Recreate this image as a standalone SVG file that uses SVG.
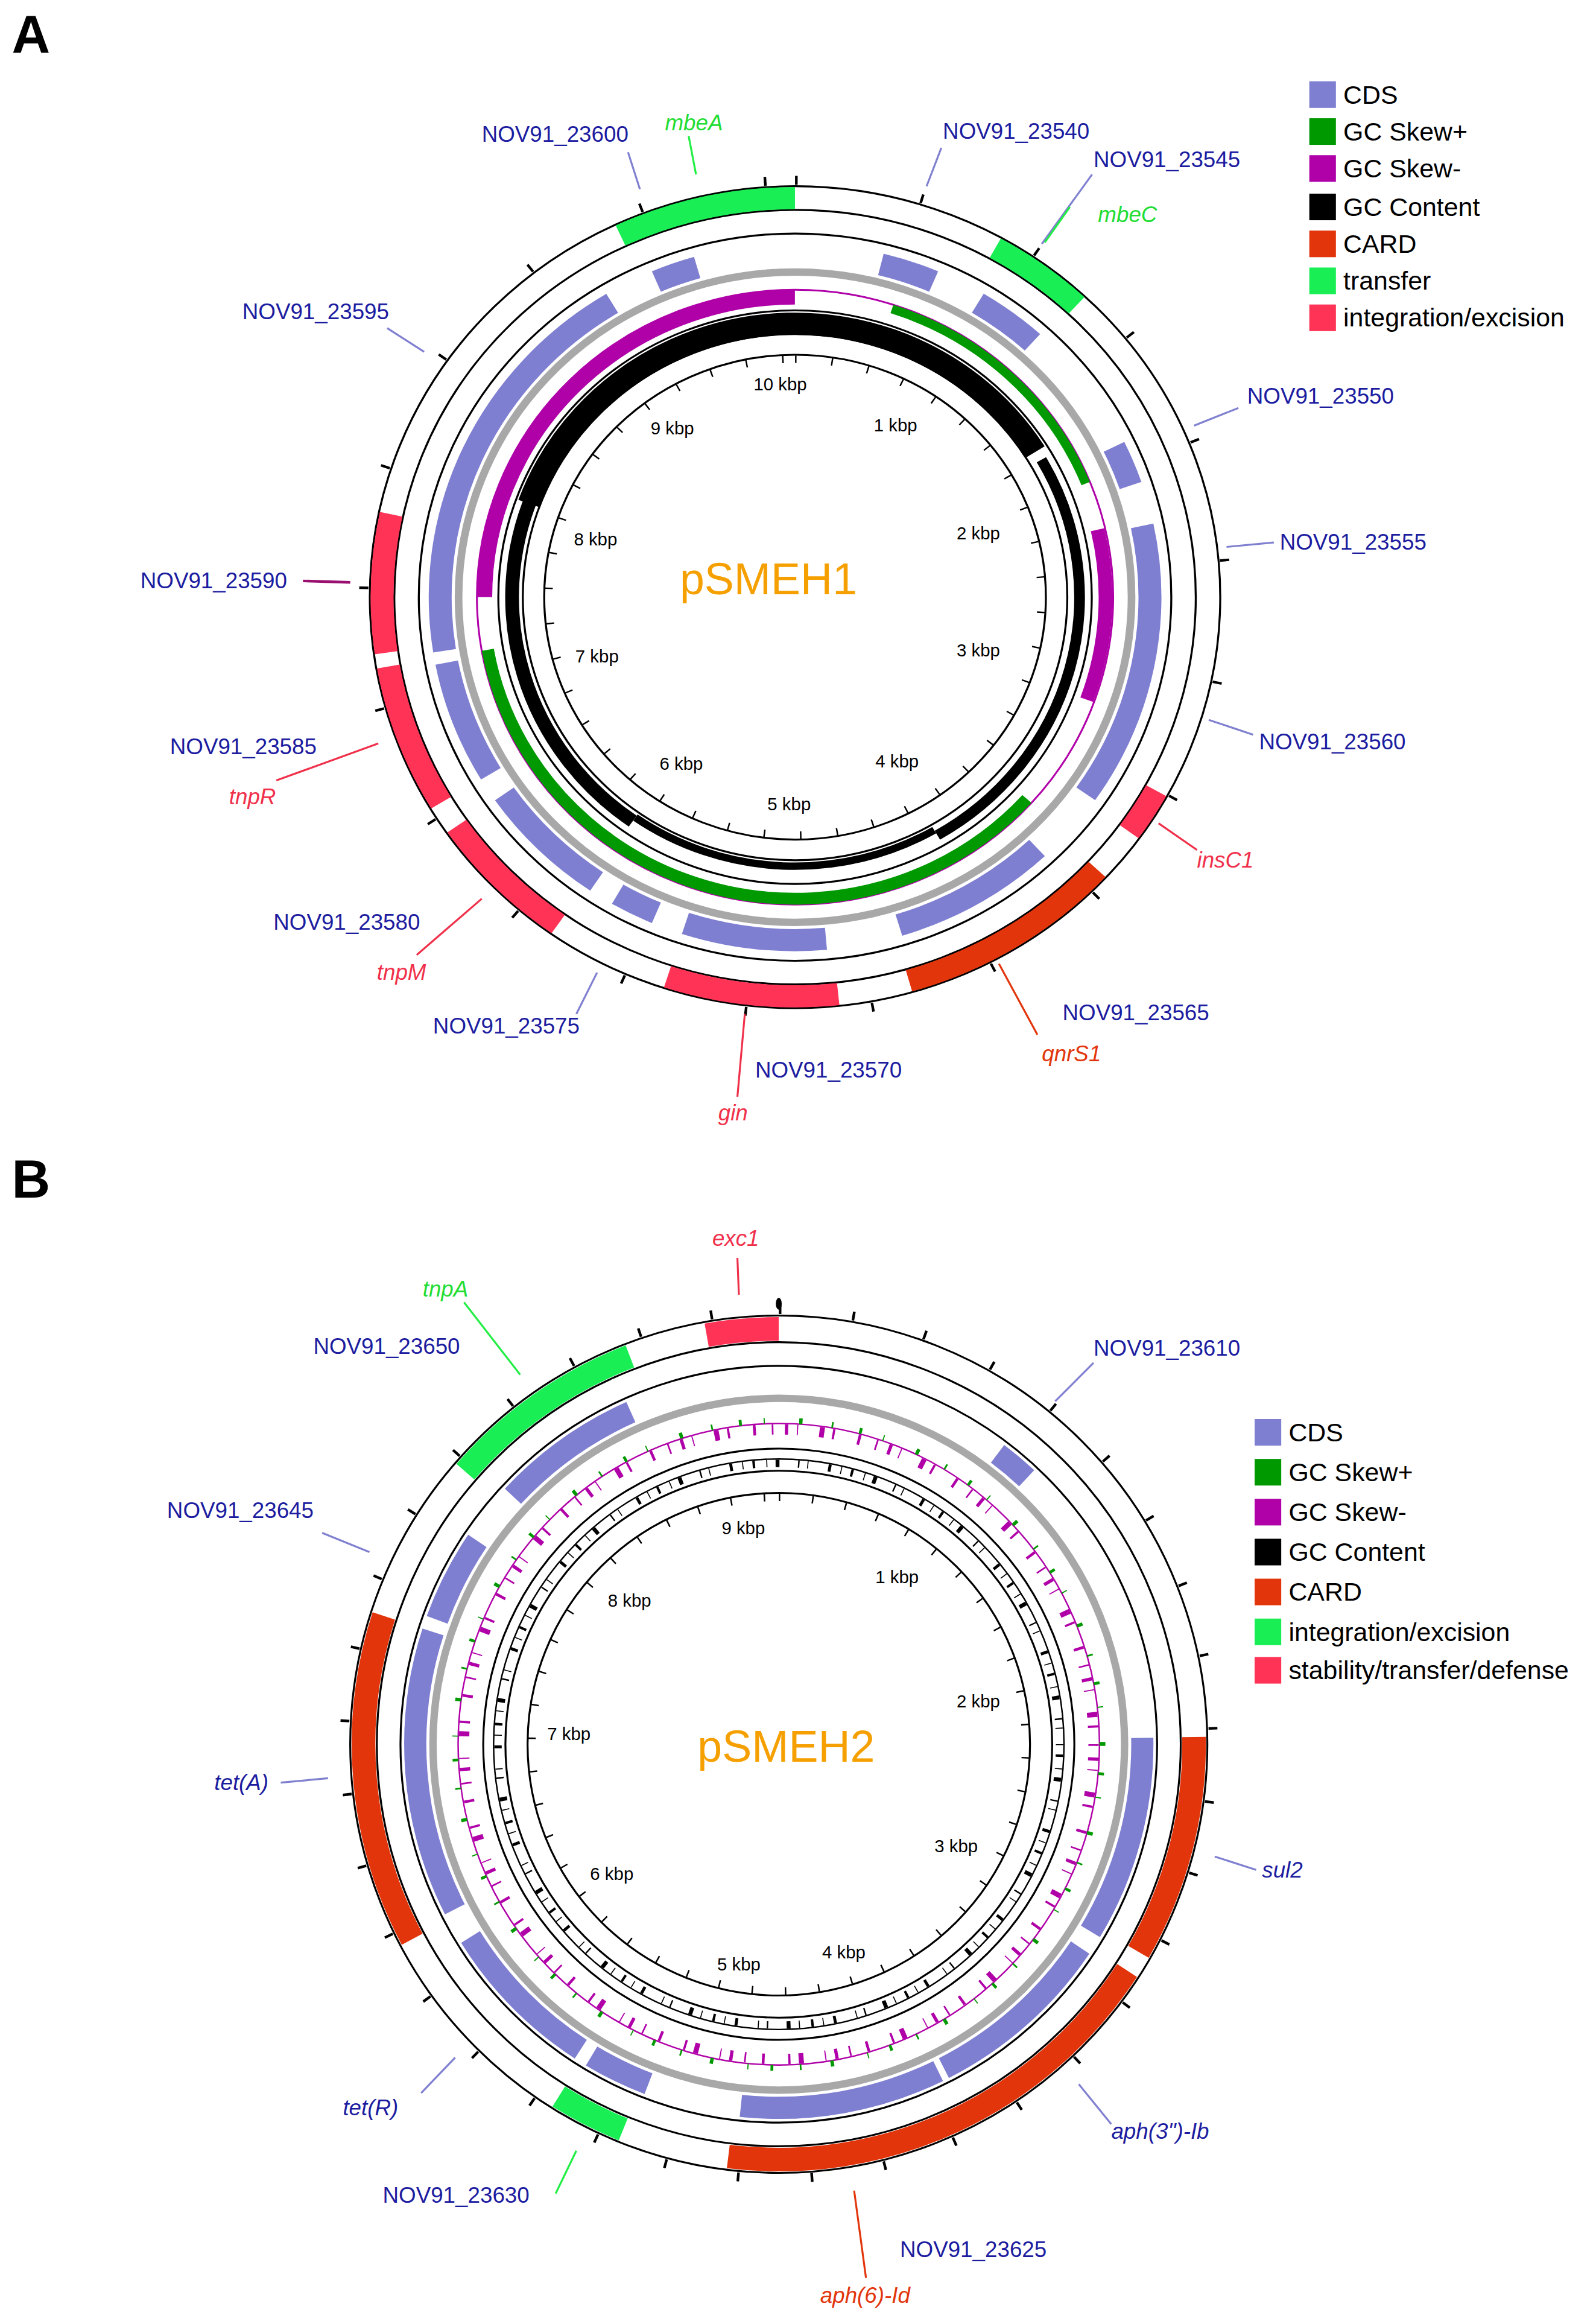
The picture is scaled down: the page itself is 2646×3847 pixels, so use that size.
<svg xmlns="http://www.w3.org/2000/svg" width="2646" height="3847" viewBox="0 0 2646 3847">
<style>
text{font-family:"Liberation Sans",Arial,sans-serif}
.lb{font-size:15px;fill:#1c1ca0}
.it{font-style:italic}
.kb{font-size:12px;fill:#000;text-anchor:middle}
.lg{font-size:17.5px;fill:#000}
.ring{fill:none;stroke:#000;stroke-width:1.3}
.arc{fill:none}
.cds{stroke:#7f7fd2;stroke-width:15}
.grey{fill:none;stroke:#a8a8a8;stroke-width:5}
.blu{stroke:#8080d0;stroke-width:1.3}
.red{stroke:#f0304a;stroke-width:1.3}
.grn{stroke:#22ee44;stroke-width:1.3}
.org{stroke:#e2350b;stroke-width:1.3}
</style>
<rect width="2646" height="3847" fill="#fff"/>
<g transform="scale(2.45)">
<g id="panelA">
<text x="8" y="36" font-size="36" font-weight="bold">A</text>
<g id="circA" transform="translate(538 404) scale(1.035 1)">
<circle class="ring" r="278"/><circle class="ring" r="262"/><circle class="ring" r="246"/>
<circle class="ring" r="194"/><circle class="ring" r="178"/><circle class="ring" r="164"/>
<circle class="arc" r="282" stroke="#000" stroke-width="6" pathLength="360" stroke-dasharray="0.35 16.6" transform="rotate(-90)"/>
<circle class="arc" r="161" stroke="#000" stroke-width="5" pathLength="360" stroke-dasharray="0.35 8.15" transform="rotate(-90)"/>
<g id="featA" class="arc" stroke-width="15">
<circle r="270" stroke="#19ee55" pathLength="360" stroke-dasharray="25 360" transform="rotate(-115)"/>
<circle r="270" stroke="#19ee55" pathLength="360" stroke-dasharray="14 360" transform="rotate(-61)"/>
<circle r="270" stroke="#ff3355" pathLength="360" stroke-dasharray="7 360" transform="rotate(29)"/>
<circle r="270" stroke="#e2350b" pathLength="360" stroke-dasharray="31 360" transform="rotate(43)"/>
<circle r="270" stroke="#ff3355" pathLength="360" stroke-dasharray="24 360" transform="rotate(84)"/>
<circle r="270" stroke="#ff3355" pathLength="360" stroke-dasharray="20 360" transform="rotate(125)"/>
<circle r="270" stroke="#ff3355" pathLength="360" stroke-dasharray="21 360" transform="rotate(149)"/>
<circle r="270" stroke="#ff3355" pathLength="360" stroke-dasharray="20 360" transform="rotate(172)"/>
</g>
<circle class="grey" r="220"/>
<g id="cdsA" class="arc cds">
<circle r="232" pathLength="360" stroke-dasharray="7 360" transform="rotate(-113)"/>
<circle r="232" pathLength="360" stroke-dasharray="9 360" transform="rotate(-76)"/>
<circle r="232" pathLength="360" stroke-dasharray="11 360" transform="rotate(-59)"/>
<circle r="232" pathLength="360" stroke-dasharray="7 360" transform="rotate(-26)"/>
<circle r="232" pathLength="360" stroke-dasharray="47 360" transform="rotate(-12)"/>
<circle r="232" pathLength="360" stroke-dasharray="26 360" transform="rotate(47)"/>
<circle r="232" pathLength="360" stroke-dasharray="23 360" transform="rotate(85)"/>
<circle r="232" pathLength="360" stroke-dasharray="7 360" transform="rotate(113)"/>
<circle r="232" pathLength="360" stroke-dasharray="21 360" transform="rotate(124)"/>
<circle r="232" pathLength="360" stroke-dasharray="20 360" transform="rotate(149)"/>
<circle r="232" pathLength="360" stroke-dasharray="68 360" transform="rotate(171)"/>
</g>
<g id="skewA" class="arc">
<circle r="208" stroke="#b000a8" stroke-width="1.2"/>
<circle r="203" stroke="#b000a8" stroke-width="10" pathLength="360" stroke-dasharray="90 360" transform="rotate(180)"/>
<circle r="203" stroke="#b000a8" stroke-width="9" pathLength="360" stroke-dasharray="33 360" transform="rotate(-13)"/>
<circle r="205" stroke="#009900" stroke-width="6" pathLength="360" stroke-dasharray="50 360" transform="rotate(-72)"/>
<circle r="204" stroke="#009900" stroke-width="8" pathLength="360" stroke-dasharray="128 360" transform="rotate(42)"/>
</g>
<g id="gcA" class="arc" stroke="#000">
<circle r="185" stroke-width="15" pathLength="360" stroke-dasharray="128 360" transform="rotate(-160)"/>
<circle r="186" stroke-width="7" pathLength="360" stroke-dasharray="90 360" transform="rotate(-30)"/>
<circle r="182" stroke-width="5" pathLength="360" stroke-dasharray="65 360" transform="rotate(60)"/>
<circle r="185" stroke-width="9" pathLength="360" stroke-dasharray="77 360" transform="rotate(125)"/>
</g>
</g>
<text x="520" y="402" font-size="30" fill="#f5a000" text-anchor="middle">pSMEH1</text>
<g id="kbpA">
<text class="kb" x="528" y="264">10 kbp</text><text class="kb" x="606" y="292">1 kbp</text>
<text class="kb" x="455" y="294">9 kbp</text><text class="kb" x="662" y="365">2 kbp</text>
<text class="kb" x="403" y="369">8 kbp</text><text class="kb" x="662" y="444">3 kbp</text>
<text class="kb" x="404" y="448">7 kbp</text><text class="kb" x="607" y="519">4 kbp</text>
<text class="kb" x="461" y="521">6 kbp</text><text class="kb" x="534" y="548">5 kbp</text>
</g>
<g id="connectorsA">
<line class="blu" x1="425" y1="103" x2="433" y2="128"/>
<line class="grn" x1="466" y1="92" x2="471" y2="118"/>
<line class="blu" x1="637" y1="100" x2="627" y2="126"/>
<line class="blu" x1="739" y1="118" x2="705" y2="165"/>
<line class="grn" x1="724" y1="140" x2="707" y2="164"/>
<line class="blu" x1="262" y1="222" x2="287" y2="238"/>
<line class="blu" x1="838" y1="276" x2="808" y2="288"/>
<line class="blu" x1="862" y1="367" x2="830" y2="370"/>
<line stroke="#9a1070" stroke-width="1.8" x1="205" y1="393" x2="237" y2="394"/>
<line class="blu" x1="848" y1="497" x2="818" y2="487"/>
<line class="red" x1="187" y1="528" x2="256" y2="503"/>
<line class="red" x1="810" y1="575" x2="784" y2="557"/>
<line class="red" x1="282" y1="646" x2="326" y2="608"/>
<line class="org" x1="702" y1="700" x2="676" y2="652"/>
<line class="blu" x1="390" y1="686" x2="404" y2="658"/>
<line class="red" x1="499" y1="742" x2="504" y2="686"/>
</g>
<g id="labelsA">
<text class="lb" x="326" y="96">NOV91_23600</text>
<text class="lb it" x="450" y="88" style="fill:#22dd33">mbeA</text>
<text class="lb" x="638" y="94">NOV91_23540</text>
<text class="lb" x="740" y="113">NOV91_23545</text>
<text class="lb it" x="743" y="150" style="fill:#22dd33">mbeC</text>
<text class="lb" x="164" y="216">NOV91_23595</text>
<text class="lb" x="844" y="273">NOV91_23550</text>
<text class="lb" x="866" y="372">NOV91_23555</text>
<text class="lb" x="95" y="398">NOV91_23590</text>
<text class="lb" x="852" y="507">NOV91_23560</text>
<text class="lb" x="115" y="510">NOV91_23585</text>
<text class="lb it" x="155" y="544" style="fill:#f0304a">tnpR</text>
<text class="lb it" x="810" y="587" style="fill:#f0304a">insC1</text>
<text class="lb" x="185" y="629">NOV91_23580</text>
<text class="lb it" x="255" y="663" style="fill:#f0304a">tnpM</text>
<text class="lb" x="719" y="690">NOV91_23565</text>
<text class="lb it" x="705" y="718" style="fill:#e2350b">qnrS1</text>
<text class="lb" x="293" y="699">NOV91_23575</text>
<text class="lb" x="511" y="729">NOV91_23570</text>
<text class="lb it" x="486" y="758" style="fill:#f0304a">gin</text>
</g>
<g id="legendA">
<rect x="886" y="55" width="18" height="18" fill="#7f7fd2"/><text class="lg" x="909" y="70">CDS</text>
<rect x="886" y="80" width="18" height="18" fill="#009900"/><text class="lg" x="909" y="95">GC Skew+</text>
<rect x="886" y="105" width="18" height="18" fill="#b000a8"/><text class="lg" x="909" y="120">GC Skew-</text>
<rect x="886" y="131" width="18" height="18" fill="#000"/><text class="lg" x="909" y="146">GC Content</text>
<rect x="886" y="156" width="18" height="18" fill="#e2350b"/><text class="lg" x="909" y="171">CARD</text>
<rect x="886" y="181" width="18" height="18" fill="#19ee55"/><text class="lg" x="909" y="196">transfer</text>
<rect x="886" y="206" width="18" height="18" fill="#ff3355"/><text class="lg" x="909" y="221">integration/excision</text>
</g>
</g>

<g id="panelB">
<text x="8" y="810" font-size="36" font-weight="bold">B</text>
<g id="circB" transform="translate(527 1180)">
<circle class="ring" r="290"/><circle class="ring" r="272"/><circle class="ring" r="256"/>
<circle class="ring" r="200"/><circle class="ring" r="185"/><circle class="ring" r="170"/>
<circle class="arc" r="294" stroke="#000" stroke-width="6" pathLength="360" stroke-dasharray="0.35 9.4" transform="rotate(-90)"/>
<circle class="arc" r="167" stroke="#000" stroke-width="5" pathLength="360" stroke-dasharray="0.35 7.4" transform="rotate(-90)"/>
<ellipse cx="0" cy="-298" rx="2" ry="4" fill="#000"/>
<g id="featB" class="arc" stroke-width="16">
<circle r="281" stroke="#ff3355" pathLength="360" stroke-dasharray="10 360" transform="rotate(-100)"/>
<circle r="281" stroke="#19ee55" pathLength="360" stroke-dasharray="28 360" transform="rotate(-139)"/>
<circle r="281" stroke="#e2350b" pathLength="360" stroke-dasharray="46 360" transform="rotate(152)"/>
<circle r="281" stroke="#19ee55" pathLength="360" stroke-dasharray="10 360" transform="rotate(112)"/>
<circle r="281" stroke="#e2350b" pathLength="360" stroke-dasharray="64 360" transform="rotate(33)"/>
<circle r="281" stroke="#e2350b" pathLength="360" stroke-dasharray="31 360" transform="rotate(-1)"/>
</g>
<circle class="grey" r="234"/>
<g id="cdsB" class="arc cds">
<circle r="246" pathLength="360" stroke-dasharray="23 360" transform="rotate(-137)"/>
<circle r="246" pathLength="360" stroke-dasharray="6 360" transform="rotate(-53)"/>
<circle r="246" pathLength="360" stroke-dasharray="32 360" transform="rotate(-1)"/>
<circle r="246" pathLength="360" stroke-dasharray="29 360" transform="rotate(34)"/>
<circle r="246" pathLength="360" stroke-dasharray="32 360" transform="rotate(64)"/>
<circle r="246" pathLength="360" stroke-dasharray="10 360" transform="rotate(111)"/>
<circle r="246" pathLength="360" stroke-dasharray="25 360" transform="rotate(123)"/>
<circle r="246" pathLength="360" stroke-dasharray="45 360" transform="rotate(153)"/>
<circle r="246" pathLength="360" stroke-dasharray="14 360" transform="rotate(200)"/>
</g>
<g id="skewB" class="arc">
<circle r="217" stroke="#b000a8" stroke-width="1"/>
<circle r="213" stroke="#b000a8" stroke-width="7" pathLength="360" stroke-dasharray="0.3 2.1 0.6 1.6 0.2 3.9 0.9 1.5 0.4 4.3 0.5 2.9"/>
<circle r="219" stroke="#009900" stroke-width="4" pathLength="360" stroke-dasharray="0.3 4.7 0.5 3.9 0.2 6.1 0.6 5.2"/>
</g>
<g id="gcB" class="arc" stroke="#000">
<circle r="193" stroke-width="1"/>
<circle r="190" stroke-width="5" pathLength="360" stroke-dasharray="0.2 1.9 0.5 2.3 0.2 1.7 0.8 3.8 0.3 1.6 0.2 4.1 0.6 2.0"/>
</g>
</g>
<text x="532" y="1192" font-size="30" fill="#f5a000" text-anchor="middle">pSMEH2</text>
<g id="kbpB">
<text class="kb" x="503" y="1038">9 kbp</text><text class="kb" x="607" y="1071">1 kbp</text>
<text class="kb" x="426" y="1087">8 kbp</text><text class="kb" x="662" y="1155">2 kbp</text>
<text class="kb" x="385" y="1177">7 kbp</text><text class="kb" x="647" y="1253">3 kbp</text>
<text class="kb" x="414" y="1272">6 kbp</text><text class="kb" x="571" y="1325">4 kbp</text>
<text class="kb" x="500" y="1333">5 kbp</text>
</g>
<g id="connectorsB">
<line class="red" x1="499" y1="851" x2="500" y2="876"/>
<line class="grn" x1="314" y1="881" x2="352" y2="930"/>
<line class="blu" x1="740" y1="922" x2="714" y2="948"/>
<line class="blu" x1="218" y1="1037" x2="250" y2="1050"/>
<line class="blu" x1="190" y1="1206" x2="222" y2="1203"/>
<line class="blu" x1="850" y1="1265" x2="822" y2="1256"/>
<line class="blu" x1="285" y1="1416" x2="308" y2="1392"/>
<line class="blu" x1="752" y1="1437" x2="730" y2="1410"/>
<line class="grn" x1="376" y1="1484" x2="390" y2="1455"/>
<line class="org" x1="586" y1="1541" x2="578" y2="1482"/>
</g>
<g id="labelsB">
<text class="lb it" x="482" y="843" style="fill:#f0304a">exc1</text>
<text class="lb it" x="286" y="877" style="fill:#22dd33">tnpA</text>
<text class="lb" x="212" y="916">NOV91_23650</text>
<text class="lb" x="740" y="917">NOV91_23610</text>
<text class="lb" x="113" y="1027">NOV91_23645</text>
<text class="lb it" x="145" y="1211">tet(A)</text>
<text class="lb it" x="854" y="1270">sul2</text>
<text class="lb it" x="232" y="1431">tet(R)</text>
<text class="lb it" x="752" y="1447">aph(3")-Ib</text>
<text class="lb" x="259" y="1490">NOV91_23630</text>
<text class="lb" x="609" y="1527">NOV91_23625</text>
<text class="lb it" x="555" y="1558" style="fill:#e2350b">aph(6)-Id</text>
</g>
<g id="legendB">
<rect x="849" y="960" width="18" height="18" fill="#7f7fd2"/><text class="lg" x="872" y="975">CDS</text>
<rect x="849" y="987" width="18" height="18" fill="#009900"/><text class="lg" x="872" y="1002">GC Skew+</text>
<rect x="849" y="1014" width="18" height="18" fill="#b000a8"/><text class="lg" x="872" y="1029">GC Skew-</text>
<rect x="849" y="1041" width="18" height="18" fill="#000"/><text class="lg" x="872" y="1056">GC Content</text>
<rect x="849" y="1068" width="18" height="18" fill="#e2350b"/><text class="lg" x="872" y="1083">CARD</text>
<rect x="849" y="1095" width="18" height="18" fill="#19ee55"/><text class="lg" x="872" y="1110">integration/excision</text>
<rect x="849" y="1121" width="18" height="18" fill="#ff3355"/><text class="lg" x="872" y="1136">stability/transfer/defense</text>
</g>
</g>
</g>
</svg>
